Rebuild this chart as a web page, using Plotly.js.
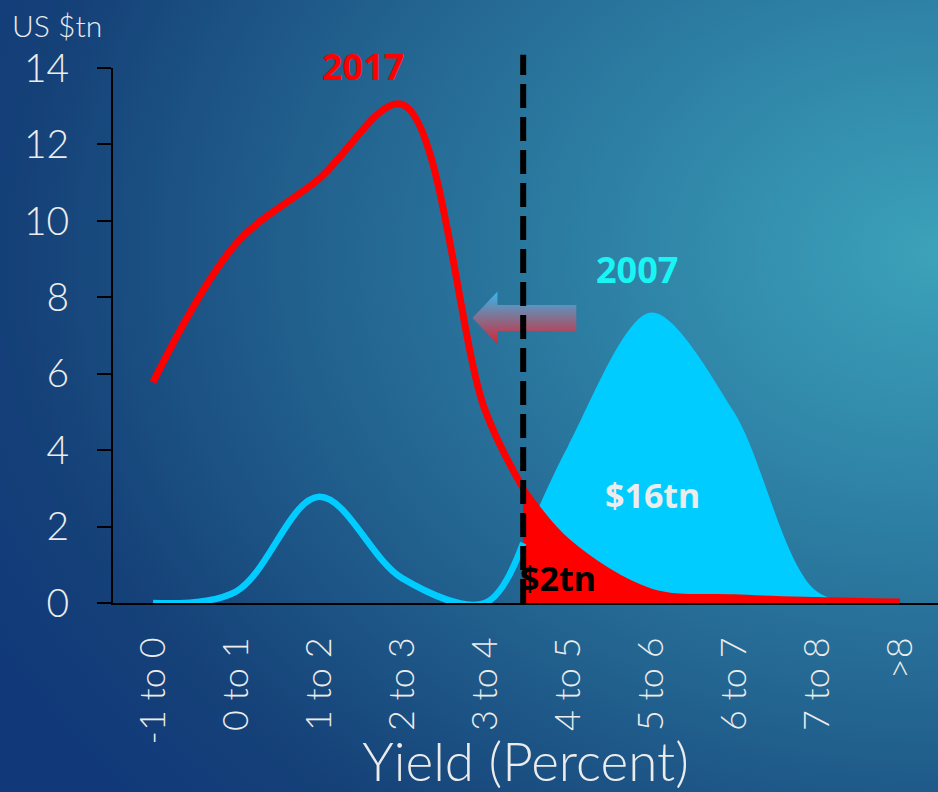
<!DOCTYPE html>
<html><head><meta charset="utf-8">
<script src="https://cdn.plot.ly/plotly-3.0.1.min.js"></script>
<style>
html,body{margin:0;padding:0;width:938px;height:792px;overflow:hidden;}
body{background: radial-gradient(ellipse 115% 105% at 100% 32%, #3ca2ba 0%, #2f84a7 28%, #22628f 58%, #154178 85%, #11397a 100%);}
#chart{width:938px;height:792px;}
</style></head><body><div id="chart"></div>
<script>
const categories = ['-1 to 0','0 to 1','1 to 2','2 to 3','3 to 4','4 to 5','5 to 6','6 to 7','7 to 8','>8'];
const categoryPos = [0,1,2,3,4,5,6,7,8,9];
const values2017 = [5.78, 9.4, 11.1, 13.05, 5.05, 1.6, 0.3, 0.15, 0.08, 0.04];
const values2007 = [0.0, 0.3, 2.78, 0.65, 0.0, 4.1, 7.6, 5.0, 0.3, 0.0];
const cutoffPos = 4.46;
const cutoff2017 = 3.0;
const cutoff2007 = 1.57;
const yTicks = [0,2,4,6,8,10,12,14];

function split(vals, cutVal){
  const lx=[], ly=[], rx=[cutoffPos], ry=[cutVal];
  categoryPos.forEach((p,i)=>{
    if(p<cutoffPos){lx.push(p);ly.push(vals[i]);} else {rx.push(p);ry.push(vals[i]);}
  });
  lx.push(cutoffPos); ly.push(cutVal);
  return {lx,ly,rx,ry};
}
const s17 = split(values2017, cutoff2017);
const s07 = split(values2007, cutoff2007);

// decorative arrow (left-pointing), drawn in data units
const arrowX = [3.85, 4.15, 4.15, 5.10, 5.10, 4.15, 4.15, 3.85];
const arrowY = [7.46, 8.15, 7.80, 7.80, 7.12, 7.12, 6.78, 7.46];

const RED = '#ff0000', CYAN = '#00ccff';
const traces = [
  {x:s07.rx, y:s07.ry, type:'scatter', mode:'lines', fill:'tozeroy', fillcolor:CYAN,
   line:{color:CYAN, width:0, shape:'spline', smoothing:0.9}},
  {x:s17.rx, y:s17.ry, type:'scatter', mode:'lines', fill:'tozeroy', fillcolor:RED,
   line:{color:RED, width:6, shape:'spline'}},
  {x:s07.lx, y:s07.ly, type:'scatter', mode:'lines',
   line:{color:CYAN, width:6.5, shape:'spline'}},
  {x:s17.lx, y:s17.ly, type:'scatter', mode:'lines',
   line:{color:RED, width:7, shape:'spline'}},
  {x:arrowX, y:arrowY, type:'scatter', mode:'none', fill:'toself',
   fillgradient:{type:'vertical', colorscale:[[0,'#d42636'],[0.5,'#85708f'],[1,'#36b8ee']]}}
];

const thinFont = {family:'Lato, "DejaVu Sans", sans-serif', color:'#ececec', weight:300};
const layout = {
  width:938, height:792,
  margin:{l:113, r:0, t:68, b:189},
  paper_bgcolor:'rgba(0,0,0,0)', plot_bgcolor:'rgba(0,0,0,0)',
  showlegend:false, hovermode:false,
  xaxis:{
    range:[-0.482, 9.458], tickmode:'array', tickvals:categoryPos, ticktext:categories,
    tickangle:-90, ticks:'', showgrid:false, zeroline:false,
    showline:true, linecolor:'#000', linewidth:2,
    ticklabelstandoff:18,
    tickfont:Object.assign({size:36}, thinFont),
    title:{text:'Yield (Percent)', font:Object.assign({size:53}, thinFont), standoff:2}
  },
  yaxis:{
    range:[0,14], tickmode:'array', tickvals:yTicks,
    ticks:'outside', ticklen:14, tickwidth:2, tickcolor:'#000',
    showgrid:false, zeroline:false, showline:true, linecolor:'#000', linewidth:2,
    ticklabelstandoff:20,
    tickfont:Object.assign({size:39}, thinFont)
  },
  shapes:[
    {type:'line', xref:'x', yref:'paper', x0:cutoffPos, x1:cutoffPos, y0:0, y1:1.025,
     layer:'above', line:{color:'#000', width:6, dash:'24px,9px'}}
  ],
  annotations:[
    {text:'US $tn', xref:'paper', yref:'paper', x:-0.125, y:1.117, xanchor:'left', yanchor:'top',
     showarrow:false, font:Object.assign({size:30}, thinFont)},
    {text:'<b>2017</b>', x:2.53, yref:'paper', y:1.002, xanchor:'center', yanchor:'middle', showarrow:false,
     font:{family:'"Noto Sans", sans-serif', size:36, color:RED}},
    {text:'<b>2007</b>', x:5.83, y:8.72, showarrow:false,
     font:{family:'"Noto Sans", sans-serif', size:36, color:'#19f5f5'}},
    {text:'<b>$16tn</b>', x:6.02, y:2.83, showarrow:false,
     font:{family:'"Noto Sans", sans-serif', size:34, color:'#ececec'}},
    {text:'<b>$2tn</b>', x:4.88, y:0.65, showarrow:false,
     font:{family:'"Noto Sans", sans-serif', size:34, color:'#000'}}
  ]
};
Plotly.newPlot('chart', traces, layout, {staticPlot:true, displayModeBar:false});
</script></body></html>
